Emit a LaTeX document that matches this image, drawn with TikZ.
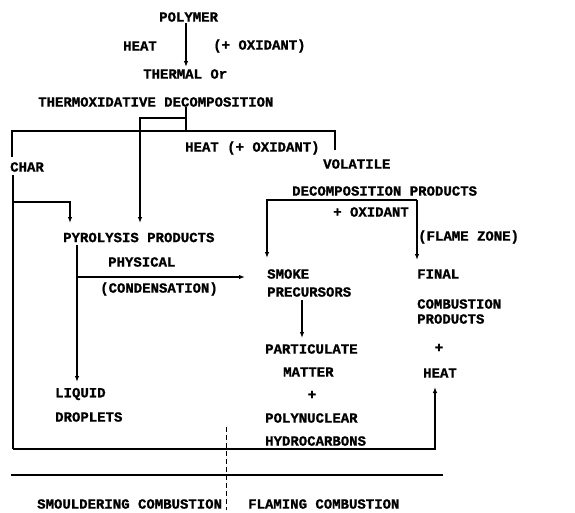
\documentclass[tikz,border=0pt]{standalone}
\usepackage{fontspec}
\setmainfont{Liberation Mono}[BoldFeatures={FakeBold=1.2}]
\usetikzlibrary{arrows.meta}
\begin{document}
\begin{tikzpicture}[x=1pt,y=-1pt,
  lbl/.style={anchor=west,inner sep=0pt,font=\fontsize{14}{16}\selectfont\bfseries},
  clbl/.style={anchor=center,inner sep=0pt,font=\fontsize{14}{16}\selectfont\bfseries},
  ln/.style={line width=1.6pt},
  arr/.style={line width=1.6pt,-{Latex[length=6pt,width=4.5pt]}}]
\useasboundingbox (0,0) rectangle (575,512);
% texts
\node[lbl] (polymer) at (159,17) {POLYMER};
\node[lbl] (heat1) at (123,46) {HEAT};
\node[lbl] (oxid1) at (213,46) {(+ OXIDANT)};
\node[lbl] (thermal) at (143,74) {THERMAL Or};
\node[lbl] (thermox) at (38,102) {THERMOXIDATIVE DECOMPOSITION};
\node[lbl] (heat2) at (185,148) {HEAT (+ OXIDANT)};
\node[lbl] (char) at (10,167) {CHAR};
\node[lbl] (volatile) at (323,164) {VOLATILE};
\node[lbl] (decprod) at (292,191) {DECOMPOSITION PRODUCTS};
\node[lbl] (oxid2) at (333,212) {+ OXIDANT};
\node[lbl] (flame) at (418,237) {(FLAME ZONE)};
\node[lbl] (pyro) at (63,237.5) {PYROLYSIS PRODUCTS};
\node[lbl] (physical) at (108,262) {PHYSICAL};
\node[lbl] (condens) at (100,289) {(CONDENSATION)};
\node[lbl] (smoke) at (267,274) {SMOKE};
\node[lbl] (precursors) at (267,292) {PRECURSORS};
\node[lbl] (final) at (417,274) {FINAL};
\node[lbl] (combustion) at (417,304) {COMBUSTION};
\node[lbl] (products) at (417,319) {PRODUCTS};
\node[lbl] (particulate) at (265,349) {PARTICULATE};
\node[lbl] (matter) at (283,372) {MATTER};
\node[clbl] (plus1) at (312,395) {+};
\node[lbl] (polynuclear) at (265,418) {POLYNUCLEAR};
\node[lbl] (hydro) at (265,441) {HYDROCARBONS};
\node[clbl] (plus2) at (439,348) {+};
\node[lbl] (heat3) at (423,373) {HEAT};
\node[lbl] (liquid) at (55,394) {LIQUID};
\node[lbl] (droplets) at (55,417) {DROPLETS};
\node[lbl] (smould) at (37,504) {SMOULDERING COMBUSTION};
\node[lbl] (flaming) at (248,504) {FLAMING COMBUSTION};
% junction coordinates
\coordinate (p0) at (186,23);
\coordinate (p1) at (186,67);
\coordinate (d0) at (186,107);
\coordinate (d1) at (186,118);
\coordinate (d2) at (140,118);
\coordinate (d3) at (140,223);
\coordinate (b0) at (12,131);
\coordinate (b1) at (186,131);
\coordinate (b2) at (335,131);
\coordinate (b3) at (335,150);
\coordinate (b4) at (12,157);
\coordinate (c0) at (13,175);
\coordinate (c1) at (13,202);
\coordinate (c2) at (70,202);
\coordinate (c3) at (70,223);
\coordinate (c4) at (13,449);
\coordinate (c5) at (435,449);
\coordinate (c6) at (435,387);
\coordinate (y0) at (77,245);
\coordinate (y1) at (77,277);
\coordinate (y2) at (245,277);
\coordinate (y3) at (77,382);
\coordinate (v0) at (267,200);
\coordinate (v1) at (417,200);
\coordinate (v2) at (267,258);
\coordinate (v3) at (417,260);
\coordinate (s0) at (302,300);
\coordinate (s1) at (302,338);
\coordinate (k0) at (226,427);
\coordinate (k1) at (226,510);
\coordinate (h0) at (11,475);
\coordinate (h1) at (443,475);
% connectors
\draw[arr] (p0) -- (p1);
\draw[ln] (d0) -- (b1);
\draw[arr] (d1) -- (d2) -- (d3);
\draw[ln] (b4) -- (b0) -- (b2) -- (b3);
\draw[ln] (c0) -- (c4);
\draw[arr] (c4) -- (c5) -- (c6);
\draw[arr] (c1) -- (c2) -- (c3);
\draw[arr] (y0) -- (y3);
\draw[arr] (y1) -- (y2);
\draw[arr] (v1) -- (v0) -- (v2);
\draw[arr] (v1) -- (v3);
\draw[arr] (s0) -- (s1);
\draw[line width=1pt,dash pattern=on 5pt off 3pt] (k0) -- (k1);
\draw[ln] (h0) -- (h1);
\end{tikzpicture}
\end{document}
